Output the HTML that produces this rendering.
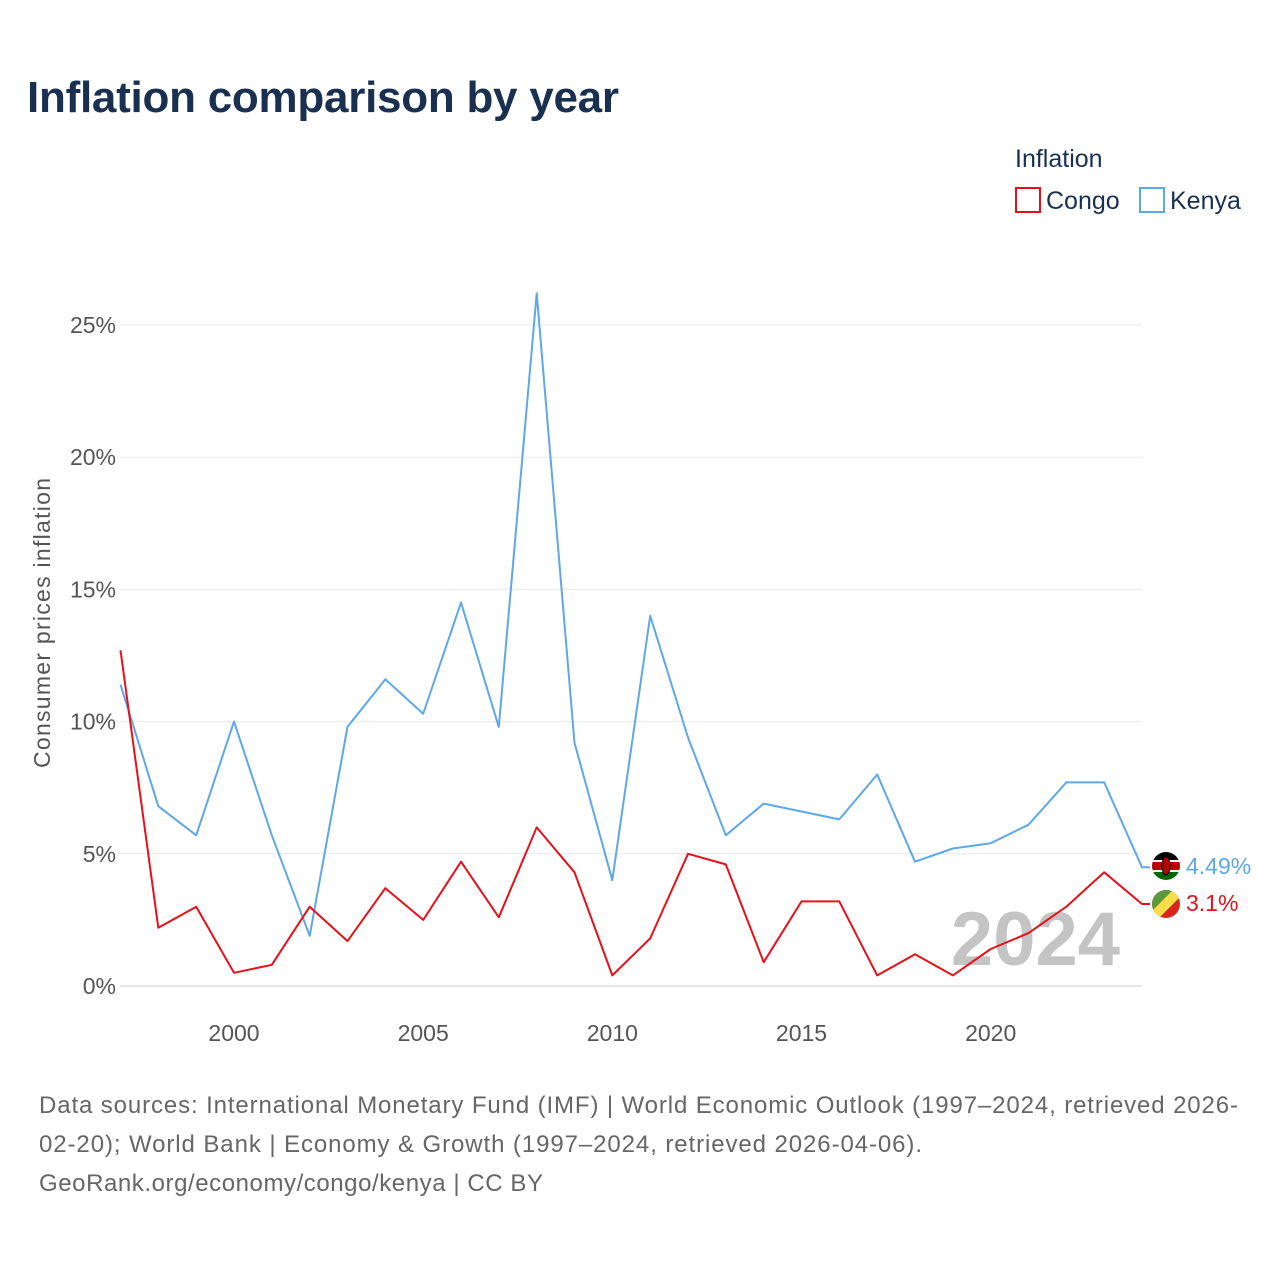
<!DOCTYPE html>
<html><head><meta charset="utf-8"><style>
body{margin:0;background:#fff;font-family:"Liberation Sans",sans-serif;}
</style></head><body>
<svg width="1280" height="1280" viewBox="0 0 1280 1280" xmlns="http://www.w3.org/2000/svg">
<text x="27" y="112" font-size="44" font-weight="bold" fill="#1a3050" textLength="592">Inflation comparison by year</text>
<text x="1015" y="167" font-size="25" fill="#1a3050">Inflation</text>
<g><rect x="1016" y="188" width="24" height="24" fill="none" stroke="#e8101a" stroke-width="2"/><text x="1046" y="209" font-size="25" fill="#1a3050">Congo</text></g>
<g><rect x="1140" y="188" width="24" height="24" fill="none" stroke="#5ea7e8" stroke-width="2"/><text x="1170" y="209" font-size="25" fill="#1a3050">Kenya</text></g>
<g id="grid"></g>
<g id="yticks"></g>
<g id="xticks"></g>
<text transform="translate(50,623) rotate(-90)" text-anchor="middle" font-size="23" fill="#555" textLength="290">Consumer prices inflation</text>
<text x="1120" y="965" text-anchor="end" font-size="76" font-weight="bold" fill="#c4c4c4">2024</text>
<g id="series"></g>
<g><clipPath id="ck"><circle cx="1166" cy="866" r="14"/></clipPath><g clip-path="url(#ck)"><rect x="1150" y="850" width="32" height="11" fill="#000"/><rect x="1150" y="861" width="32" height="10" fill="#b00"/><rect x="1150" y="860" width="32" height="2" fill="#fff"/><rect x="1150" y="870" width="32" height="2" fill="#fff"/><rect x="1150" y="872" width="32" height="12" fill="#060"/><ellipse cx="1166" cy="866" rx="4" ry="9" fill="#b00" stroke="#000"/></g></g>
<g><clipPath id="cc"><circle cx="1166" cy="904" r="14"/></clipPath><g clip-path="url(#cc)"><rect x="1150" y="888" width="32" height="32" fill="#dc241f"/><polygon points="1150,888 1175,888 1150,913" fill="#5a9a3a"/><polygon points="1175,888 1182,888 1182,895 1157,920 1150,920 1150,913" fill="#fbde4a"/></g></g>
<text x="1186" y="874" font-size="23" fill="#5ea7e8">4.49%</text>
<text x="1186" y="911" font-size="23" fill="#e8101a">3.1%</text>
<g font-size="24" fill="#666">
<text x="39" y="1113" textLength="1199">Data sources: International Monetary Fund (IMF) | World Economic Outlook (1997–2024, retrieved 2026-</text>
<text x="39" y="1152" textLength="883">02-20); World Bank | Economy &amp; Growth (1997–2024, retrieved 2026-04-06).</text>
<text x="39" y="1191" textLength="504">GeoRank.org/economy/congo/kenya | CC BY</text>
</g>
</svg>
<script>
const years=[1997,1998,1999,2000,2001,2002,2003,2004,2005,2006,2007,2008,2009,2010,2011,2012,2013,2014,2015,2016,2017,2018,2019,2020,2021,2022,2023,2024];
const kenya=[11.4,6.8,5.7,10.0,5.7,1.9,9.8,11.6,10.3,14.5,9.8,26.2,9.2,4.0,14.0,9.4,5.7,6.9,6.6,6.3,8.0,4.7,5.2,5.4,6.1,7.7,7.7,4.49];
const congo=[12.7,2.2,3.0,0.5,0.8,3.0,1.7,3.7,2.5,4.7,2.6,6.0,4.3,0.4,1.8,5.0,4.6,0.9,3.2,3.2,0.4,1.2,0.4,1.4,2.0,3.0,4.3,3.1];
const yTicks=[0,5,10,15,20,25];
const xTicks=[2000,2005,2010,2015,2020];
const NS="http://www.w3.org/2000/svg";
const x=v=>120.5+(v-1997)*(1142-120.5)/27;
const y=v=>986-v*26.44;
function mk(t,a,p){const e=document.createElementNS(NS,t);for(const k in a)e.setAttribute(k,a[k]);p.appendChild(e);return e;}
const g=document.getElementById('grid'),yt=document.getElementById('yticks'),xt=document.getElementById('xticks'),s=document.getElementById('series');
yTicks.forEach(v=>{
 const l=mk('line',{x1:120,x2:1142,y1:y(v),y2:y(v),stroke:v===0?'#ccc':'#e8e8e8','stroke-width':1},g);
 
 
 const t=mk('text',{x:116,y:y(v)+8,'text-anchor':'end','font-size':23,fill:'#555'},yt);t.textContent=v+'%';
 
 
});
xTicks.forEach(v=>{
 const t=mk('text',{x:x(v),y:1041,'text-anchor':'middle','font-size':23,fill:'#555'},xt);t.textContent=v;
 
 
});
function line(data,color,name){
 let d=data.map((v,i)=>(i?'L':'M')+x(years[i]).toFixed(1)+','+y(v).toFixed(1)).join(' ');
 d+=' L1150,'+y(data[data.length-1]).toFixed(1);
 const p=mk('path',{d:d,fill:'none',stroke:color,'stroke-width':2,'stroke-linejoin':'round'},s);
 
 
}
line(kenya,'#5ea7e8','kenya-line');
line(congo,'#e8101a','congo-line');
</script>
</body></html>
